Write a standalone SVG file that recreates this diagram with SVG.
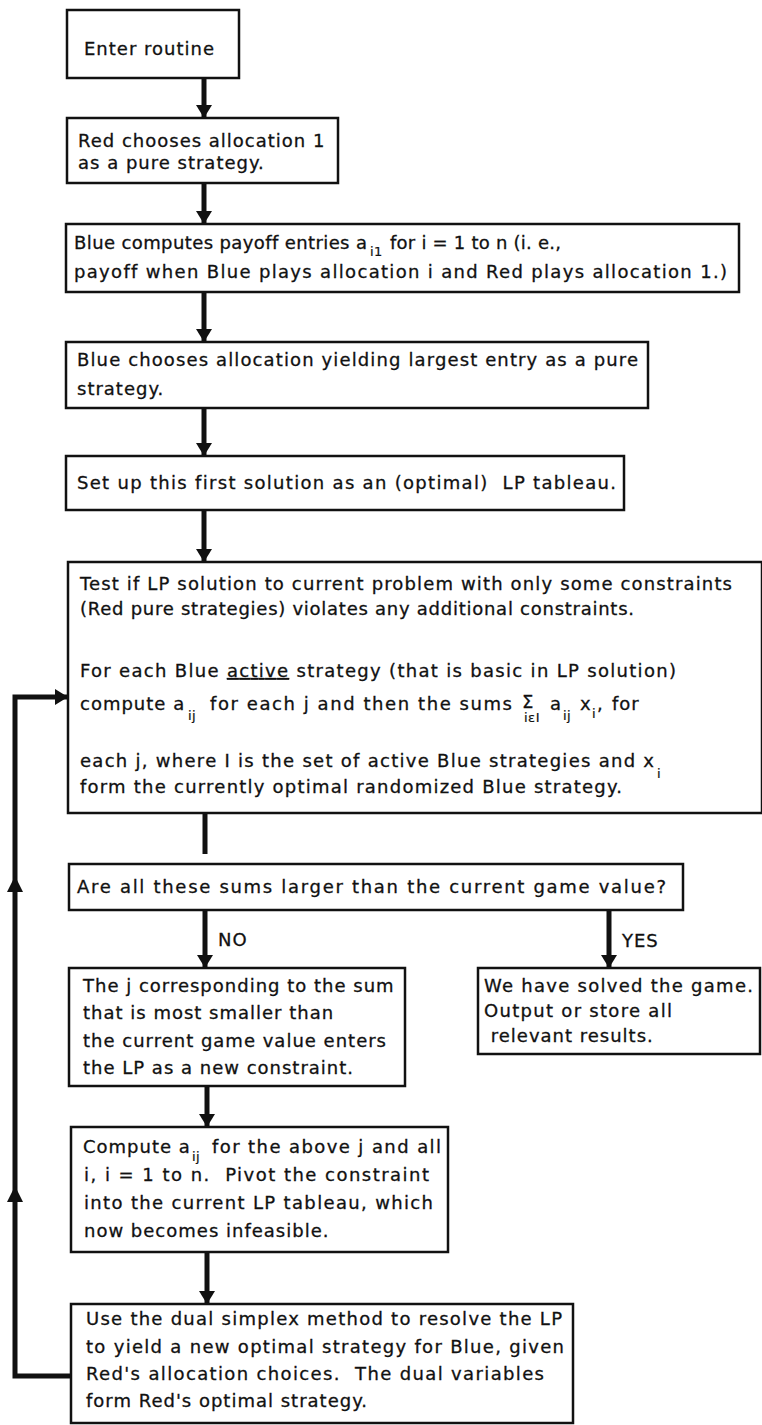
<svg xmlns="http://www.w3.org/2000/svg" width="762" height="1425" viewBox="0 0 762 1425">
<defs>
<marker id="ah" markerUnits="userSpaceOnUse" markerWidth="13" markerHeight="16" refX="13" refY="8" orient="auto" viewBox="0 0 13 16">
<path d="M0,0 L13,8 L0,16 Z" fill="#111"/>
</marker>
<style>
.box{fill:#fff;stroke:#111;stroke-width:2.5}
.t{font-family:"DejaVu Sans",sans-serif;font-size:18px;fill:#111;stroke:#111;stroke-width:0.3;letter-spacing:1px}
.s{font-family:"DejaVu Sans",sans-serif;font-size:13px;fill:#111;stroke:#111;stroke-width:0.2;letter-spacing:0.5px}
.c{fill:none;stroke:#111;stroke-width:5}
</style>
</defs>
<rect width="762" height="1425" fill="#fff"/>
<g id="connectors">
<line class="c" x1="204" y1="78" x2="204" y2="118" marker-end="url(#ah)"/>
<line class="c" x1="204" y1="183" x2="204" y2="224" marker-end="url(#ah)"/>
<line class="c" x1="204" y1="292" x2="204" y2="342" marker-end="url(#ah)"/>
<line class="c" x1="204" y1="408" x2="204" y2="456" marker-end="url(#ah)"/>
<line class="c" x1="204" y1="510" x2="204" y2="562" marker-end="url(#ah)"/>
<line class="c" x1="205" y1="813" x2="205" y2="854"/>
<line class="c" x1="205" y1="910" x2="205" y2="968" marker-end="url(#ah)"/>
<line class="c" x1="609" y1="910" x2="609" y2="968" marker-end="url(#ah)"/>
<line class="c" x1="207" y1="1086" x2="207" y2="1127" marker-end="url(#ah)"/>
<line class="c" x1="207" y1="1252" x2="207" y2="1304" marker-end="url(#ah)"/>
<path class="c" d="M71,1376 H15 V697 H68" marker-end="url(#ah)"/>
<polygon points="15,876 7,892 23,892" fill="#111"/>
<polygon points="15,1186 7,1202 23,1202" fill="#111"/>
<text class="t" x="218" y="946">NO</text>
<text class="t" x="622" y="947">YES</text>
</g>
<g id="n1">
<rect class="box" x="67" y="10" width="172" height="68"/>
<text class="t" x="84" y="55">Enter routine</text>
</g>
<g id="n2">
<rect class="box" x="67" y="118" width="271" height="65"/>
<text class="t" x="78" y="147">Red chooses allocation 1</text>
<text class="t" x="78" y="169">as a pure strategy.</text>
</g>
<g id="n3">
<rect class="box" x="66" y="224" width="673" height="68"/>
<text class="t" x="74" y="249" textLength="294">Blue computes payoff entries a</text>
<text class="s" x="370" y="256">i1</text>
<text class="t" x="390" y="249" textLength="172">for i = 1 to n (i. e.,</text>
<text class="t" x="74" y="278" textLength="654">payoff when Blue plays allocation i and Red plays allocation 1.)</text>
</g>
<g id="n4">
<rect class="box" x="66" y="342" width="582" height="66"/>
<text class="t" x="77" y="366" textLength="562">Blue chooses allocation yielding largest entry as a pure</text>
<text class="t" x="77" y="395">strategy.</text>
</g>
<g id="n5">
<rect class="box" x="66" y="456" width="558" height="54"/>
<text class="t" x="77" y="489" textLength="540">Set up this first solution as an (optimal)&#160; LP tableau.</text>
</g>
<g id="n6">
<rect class="box" x="68" y="562" width="694" height="251"/>
<text class="t" x="80" y="590" textLength="653">Test if LP solution to current problem with only some constraints</text>
<text class="t" x="80" y="615" textLength="555">(Red pure strategies) violates any additional constraints.</text>
<text class="t" x="80" y="677" textLength="597">For each Blue <tspan text-decoration="underline">active</tspan> strategy (that is basic in LP solution)</text>
<text class="t" x="80" y="710">compute a</text>
<text class="s" x="188" y="720">ij</text>
<text class="t" x="210" y="710" textLength="303">for each j and then the sums</text>
<text class="t" x="522" y="708" font-size="16">Σ</text>
<text class="s" x="524" y="722">iεI</text>
<text class="t" x="550" y="710">a</text>
<text class="s" x="563" y="720">ij</text>
<text class="t" x="580" y="710">x</text>
<text class="s" x="592" y="718">i</text>
<text class="t" x="597" y="710">,</text>
<text class="t" x="612" y="710">for</text>
<text class="t" x="80" y="767" textLength="575">each j, where I is the set of active Blue strategies and x</text>
<text class="s" x="657" y="778">i</text>
<text class="t" x="80" y="793" textLength="543">form the currently optimal randomized Blue strategy.</text>
</g>
<g id="n7">
<rect class="box" x="69" y="864" width="614" height="46"/>
<text class="t" x="77" y="893" textLength="590">Are all these sums larger than the current game value?</text>
</g>
<g id="n8">
<rect class="box" x="478" y="968" width="282" height="86"/>
<text class="t" x="484" y="992" textLength="270">We have solved the game.</text>
<text class="t" x="484" y="1017" textLength="189">Output or store all</text>
<text class="t" x="484" y="1042">&#160;relevant results.</text>
</g>
<g id="n9">
<rect class="box" x="69" y="968" width="336" height="118"/>
<text class="t" x="83" y="992">The j corresponding to the sum</text>
<text class="t" x="83" y="1019">that is most smaller than</text>
<text class="t" x="83" y="1047">the current game value enters</text>
<text class="t" x="83" y="1074">the LP as a new constraint.</text>
</g>
<g id="n10">
<rect class="box" x="71" y="1127" width="377" height="125"/>
<text class="t" x="83" y="1153">Compute a</text>
<text class="s" x="192" y="1161">ij</text>
<text class="t" x="212" y="1153" textLength="230">for the above j and all</text>
<text class="t" x="84" y="1181" textLength="346">i, i = 1 to n.&#160; Pivot the constraint</text>
<text class="t" x="84" y="1209" textLength="350">into the current LP tableau, which</text>
<text class="t" x="84" y="1237">now becomes infeasible.</text>
</g>
<g id="n11">
<rect class="box" x="71" y="1304" width="502" height="119"/>
<text class="t" x="86" y="1325" textLength="477">Use the dual simplex method to resolve the LP</text>
<text class="t" x="86" y="1353" textLength="479">to yield a new optimal strategy for Blue, given</text>
<text class="t" x="86" y="1380" textLength="459">Red's allocation choices.&#160; The dual variables</text>
<text class="t" x="86" y="1407">form Red's optimal strategy.</text>
</g>
</svg>
